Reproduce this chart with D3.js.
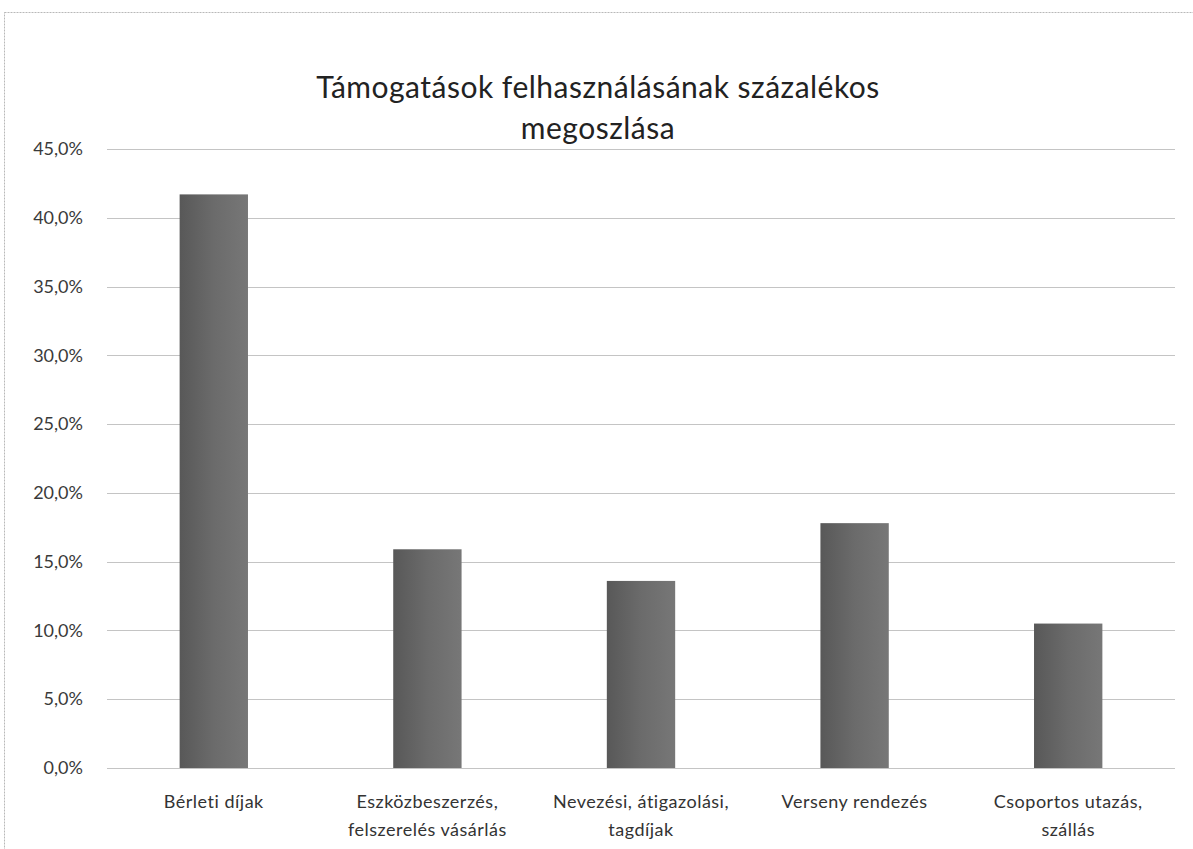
<!DOCTYPE html>
<html>
<head>
<meta charset="utf-8">
<script src="https://cdn.jsdelivr.net/npm/d3@7"></script>
<style>
  body { margin: 0; background: #fff; }
  text { font-family: Lato, "Open Sans", sans-serif; }
</style>
</head>
<body>
<div id="chart"></div>
<script>
// data
var categories = [
    ["Bérleti díjak"],
    ["Eszközbeszerzés,", "felszerelés vásárlás"],
    ["Nevezési, átigazolási,", "tagdíjak"],
    ["Verseny rendezés"],
    ["Csoportos utazás,", "szállás"]
];
var values = [41.7, 15.9, 13.6, 17.8, 10.5];
var yTicks = [0, 5, 10, 15, 20, 25, 30, 35, 40, 45];
var titleLines = ["Támogatások felhasználásának százalékos", "megoszlása"];

var svgWidth = 1193, svgHeight = 849;
var margin = { top: 149, right: 18, bottom: 81, left: 107 };
var width = svgWidth - margin.left - margin.right;
var height = svgHeight - margin.top - margin.bottom;

var svg = d3.select("#chart").append("svg")
    .attr("width", svgWidth)
    .attr("height", svgHeight);

// chart area border (only top/left visible)
svg.append("rect")
    .attr("x", 4.5).attr("y", 12.5)
    .attr("width", 1250).attr("height", 900)
    .attr("fill", "none")
    .attr("stroke", "#b8b8b8")
    .attr("stroke-dasharray", "2,1");

svg.append("text")
    .attr("x", 598)
    .attr("text-anchor", "middle")
    .attr("font-size", "30px")
    .attr("letter-spacing", "0.5px")
    .attr("fill", "#222")
    .selectAll("tspan")
    .data(titleLines)
    .enter()
    .append("tspan")
    .attr("x", 598)
    .attr("y", (d, i) => 98 + i * 41)
    .text(d => d);

var chartGroup = svg.append("g")
    .attr("transform", `translate(${margin.left}, ${margin.top})`);

var x = d3.scaleBand()
    .domain(d3.range(categories.length))
    .range([0, width])
    .paddingInner(0.68)
    .paddingOuter(0.34);

var y = d3.scaleLinear()
    .domain([0, 45])
    .range([height, 0]);

// gridlines
chartGroup.append("g")
    .selectAll("line")
    .data(yTicks)
    .enter()
    .append("line")
    .attr("x1", 0)
    .attr("x2", width)
    .attr("y1", d => Math.round(y(d)) + 0.5)
    .attr("y2", d => Math.round(y(d)) + 0.5)
    .attr("stroke", "#c4c4c4")
    .attr("stroke-width", 1);

// y axis labels
var yAxis = d3.axisLeft(y)
    .tickValues(yTicks)
    .tickSize(0)
    .tickPadding(24)
    .tickFormat(d => d.toFixed(1).replace(".", ",") + "%");

var yg = chartGroup.append("g").call(yAxis);
yg.select(".domain").remove();
yg.selectAll("text")
    .attr("font-size", "18px")
    .attr("fill", "#3a3a3a")
    .style("font-family", "Lato, 'Open Sans', sans-serif");

// bars
var grad = svg.append("defs").append("linearGradient")
    .attr("id", "barFill")
    .attr("x1", "0").attr("x2", "1").attr("y1", "0").attr("y2", "0");
grad.append("stop").attr("offset", "0%").attr("stop-color", "#585858");
grad.append("stop").attr("offset", "50%").attr("stop-color", "#6b6b6b");
grad.append("stop").attr("offset", "100%").attr("stop-color", "#777");

chartGroup.selectAll("rect.bar")
    .data(values)
    .enter()
    .append("rect")
    .attr("class", "bar")
    .attr("x", (d, i) => x(i))
    .attr("y", d => y(d))
    .attr("width", x.bandwidth())
    .attr("height", d => height - y(d))
    .attr("fill", "url(#barFill)");

// category labels
var catText = chartGroup.append("g")
    .selectAll("text")
    .data(categories)
    .enter()
    .append("text")
    .attr("text-anchor", "middle")
    .attr("font-size", "18px")
    .attr("letter-spacing", "0.5px")
    .attr("fill", "#333");

catText.selectAll("tspan")
    .data((d, i) => d.map(t => ({ t: t, i: i })))
    .enter()
    .append("tspan")
    .attr("x", d => x(d.i) + x.bandwidth() / 2)
    .attr("y", (d, j) => height + 40 + j * 28)
    .text(d => d.t);
</script>
</body>
</html>
